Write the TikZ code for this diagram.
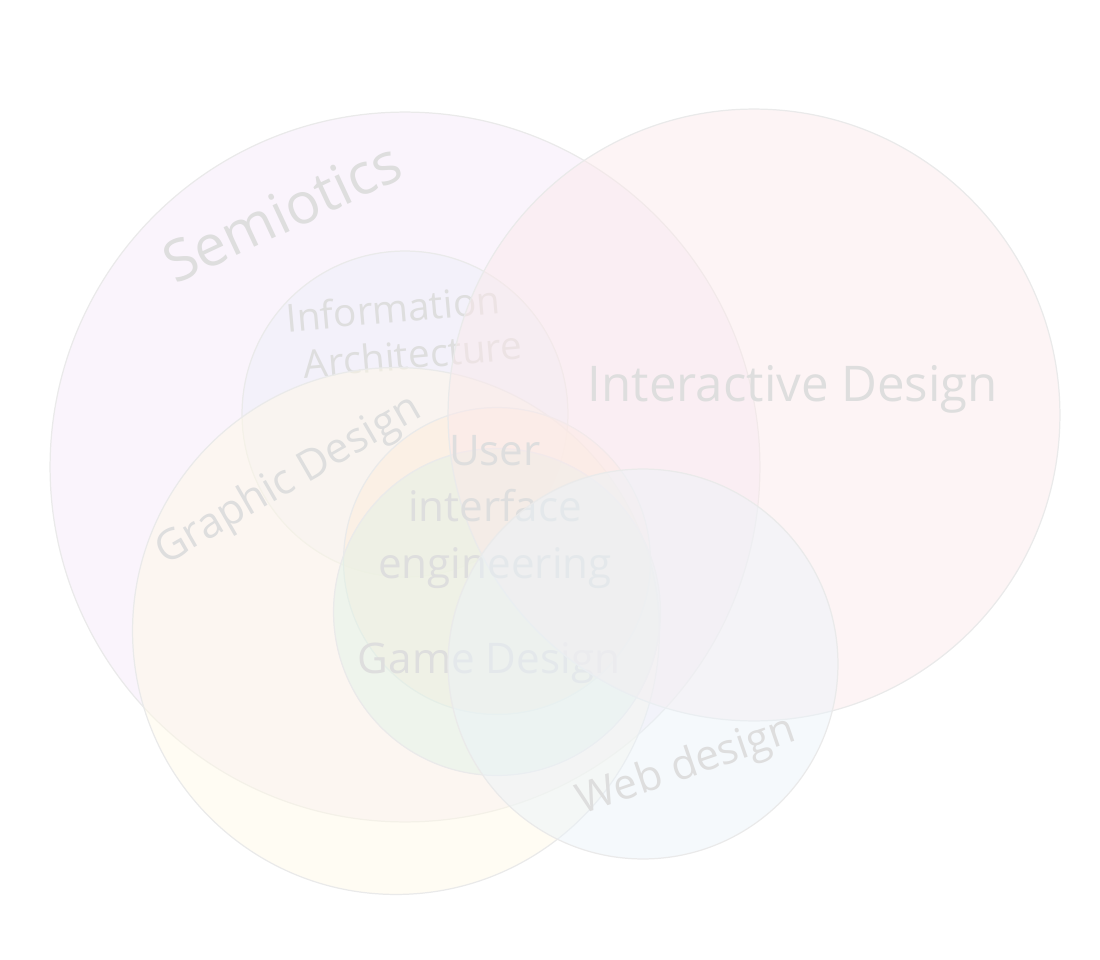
\documentclass[tikz,border=0pt]{standalone}
\usepackage{fontspec}
\setmainfont{Open Sans}
\usepackage{tikz}
\usetikzlibrary{positioning}
\definecolor{semiopurple}{HTML}{F5E9F9}
\definecolor{interpink}{HTML}{FBE9EB}
\definecolor{infoblue}{HTML}{ECEEF8}
\definecolor{graphyellow}{HTML}{FFF9E7}
\definecolor{uiorange}{HTML}{FFECDB}
\definecolor{gamegreen}{HTML}{E2F2E6}
\definecolor{webblue}{HTML}{EBF3F9}
\definecolor{labelgray}{HTML}{DEDEDE}
\definecolor{rimgray}{HTML}{EAEAEA}

\begin{document}
\begin{tikzpicture}[
  x=0.02cm, y=-0.02cm,
  field/.style={circle, draw=rimgray, line width=0.7pt, fill opacity=0.5,
    inner sep=0pt, outer sep=0pt},
  tag/.style={text=labelgray, align=center, inner sep=0pt},
]
  \useasboundingbox (0,0) rectangle (1100,960);

  \node[field, fill=semiopurple, minimum size=14.2cm] (semio) at (405,467) {};
  \node[tag, font=\fontsize{32.5}{36}\selectfont, rotate=25] (semiolbl) at (282,212) {Semiotics};

  \node[field, fill=infoblue, minimum size=6.52cm] (info) at (405,414) {};
  \node[tag, align=left, font=\fontsize{22}{27}\selectfont, rotate=5] (infolbl) at (404,331)
    {Information\\\hspace*{0.35em}Architecture};

  \node[field, fill=graphyellow, minimum size=10.54cm] (graph) at (396,631) {};
  \node[tag, font=\fontsize{24}{28}\selectfont, rotate=30] (graphlbl) at (289,481) {Graphic Design};

  \node[field, fill=uiorange, minimum size=6.14cm] (ui) at (497,561) {};

  \node[field, fill=gamegreen, minimum size=6.54cm] (game) at (497,612) {};
  \node[tag, font=\fontsize{24}{28}\selectfont] (gamelbl) at (489,663) {Game Design};

  \node[field, fill=interpink, minimum size=12.24cm] (inter) at (754,415) {};
  \node[tag, font=\fontsize{28}{32}\selectfont] (interlbl) at (793,389) {Interactive Design};
  \node[tag, font=\fontsize{24}{32}\selectfont] (uilbl) at (495,512)
    {User\\interface\\engineering};

  \node[field, fill=webblue, minimum size=7.8cm] (web) at (643,664) {};
  \node[tag, font=\fontsize{24}{28}\selectfont, rotate=19] (weblbl) at (687,767) {Web design};
\end{tikzpicture}
\end{document}
